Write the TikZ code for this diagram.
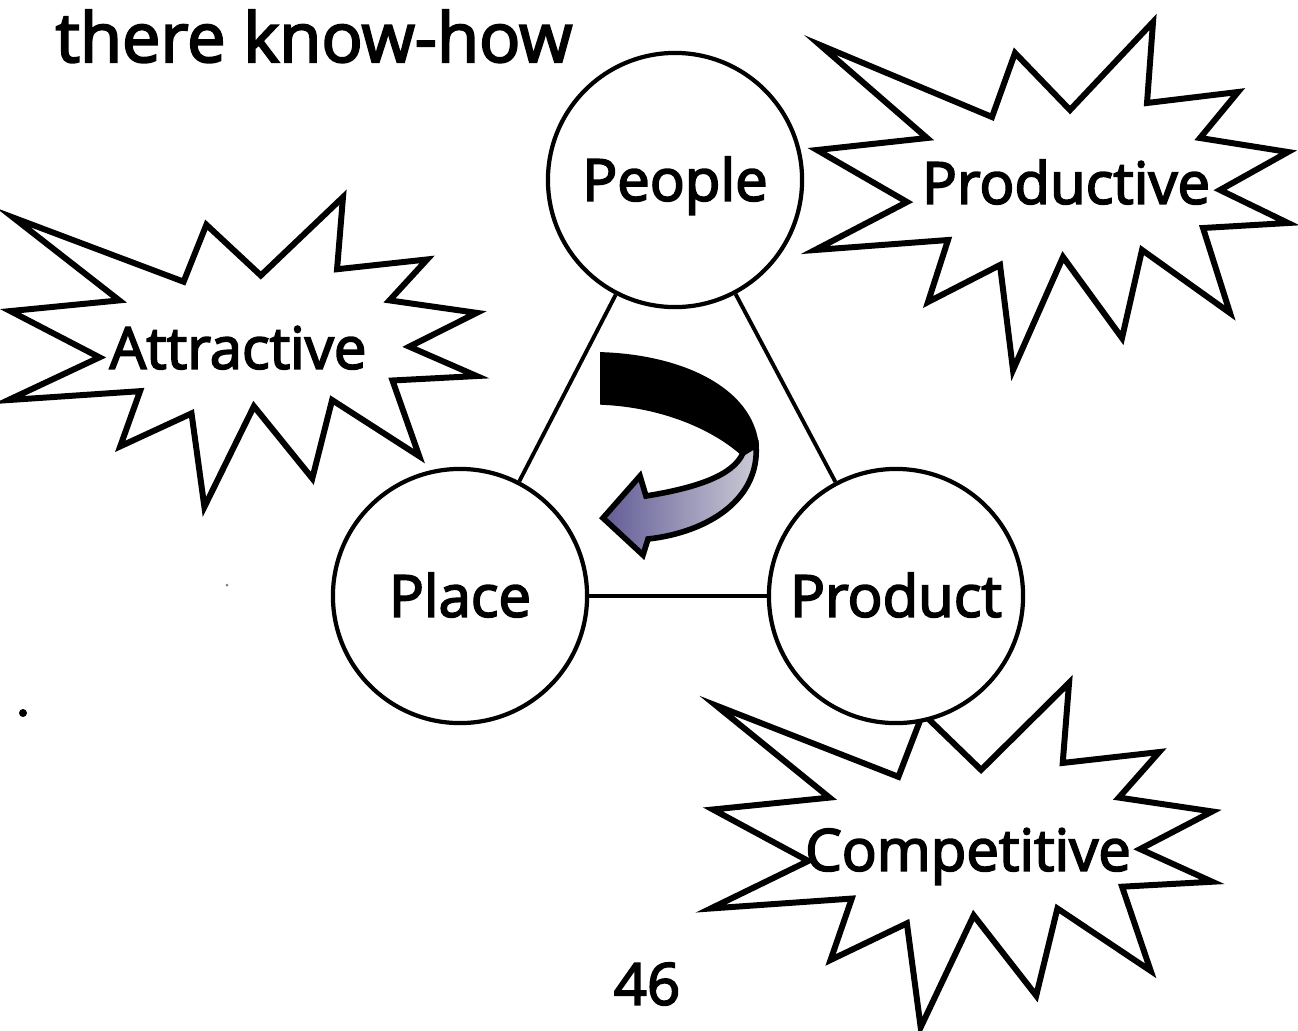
\documentclass[tikz,border=0pt]{standalone}
\usepackage{fontspec}
\setmainfont{Open Sans}[FakeBold=3]
\usetikzlibrary{positioning}
\definecolor{ribbondark}{RGB}{98,92,150}
\definecolor{ribbonlight}{RGB}{205,205,215}

\tikzset{
	burst/.pic={
		\draw[line width=1.7pt, line join=miter, fill=white]
		(-232,-151) -- (-60,-79) -- (-37,-143) -- (18,-86) -- (101,-174) -- (95,-93)
		-- (186,-104) -- (148,-58) -- (236,-44) -- (168,-6) -- (236,27) -- (151,32)
		-- (178,117) -- (90,54) -- (70,142) -- (11,61) -- (-39,174) -- (-52,69)
		-- (-124,106) -- (-104,44) -- (-237,54) -- (-145,6) -- (-235,-46) -- (-125,-58) -- cycle;
	},
	pnode/.style={circle, draw, line width=1.2pt, fill=white, minimum size=2.54cm, inner sep=0pt,
		text height=11.8pt, text depth=0pt, font=\fontsize{16.5}{20}\selectfont},
	btext/.style={inner sep=0pt, text height=11.8pt, text depth=0pt, font=\fontsize{16.5}{20}\selectfont},
	link/.style={line width=1.1pt}
}

\begin{document}
\begin{tikzpicture}[x=0.01cm, y=-0.01cm]
			\useasboundingbox (0,0) rectangle (1298,1030);

			\node[anchor=base west, inner sep=0pt, font=\fontsize{19.5}{23}\selectfont] (title) at (55,62) {there know-how};

			\pic[xscale=0.99, yscale=0.89] at (243,352) {burst};
			\pic at (1052,196) {burst};
			\pic[xscale=1.06, yscale=0.99] at (962,855) {burst};

			\node[btext] (attr) at (238,348) {Attractive};
			\node[btext] (prodv) at (1066,183) {Productive};
			\node[btext] (comp) at (968,850) {Competitive};

			\node[pnode] (people) at (675,180) {People};
			\node[pnode] (place) at (460,596) {Place};
			\node[pnode] (product) at (896,596) {Product};

			\path[link]
			(people) edge (place)
			(people) edge (product)
			(place) edge (product);

			\draw[line width=1.6pt, fill=black]
			(603,355) .. controls (682,358) and (750,390) .. (756,445)
			-- (743,453) .. controls (715,428) and (665,405) .. (603,402) -- cycle;
			\draw[line width=1.6pt, left color=ribbondark, right color=ribbonlight, line join=miter]
			(756,445) .. controls (760,498) and (710,532) .. (648,539)
			-- (643,555) -- (603,518) -- (640,476) -- (646,496)
			.. controls (695,488) and (733,476) .. (743,453) -- cycle;

			\node[btext] (page) at (647,984) {46};

			\fill (23,713) circle (4);
			\fill[gray] (227,585) circle (1.5);
		\end{tikzpicture}
\end{document}
